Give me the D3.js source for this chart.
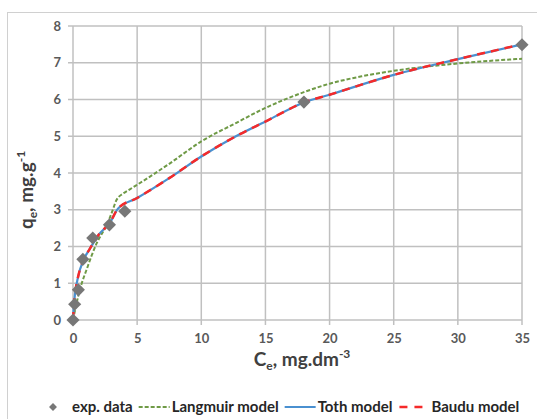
<!DOCTYPE html>
<html><head><meta charset="utf-8">
<script src="https://cdn.jsdelivr.net/npm/d3@7"></script>
<style>
body{margin:0;background:#fff;}
svg{display:block;}
</style></head>
<body>
<script>
// ---- data ----
const expX = [0, 0.13, 0.42, 0.77, 1.54, 2.84, 4.04, 18, 35];
const expY = [0, 0.43, 0.82, 1.65, 2.23, 2.59, 2.96, 5.93, 7.49];

const langX = [0, 0.2, 0.4, 0.7, 1.05, 1.45, 1.85, 2.25, 2.6, 3.0, 3.4, 3.9, 4.4, 5.0, 5.9, 7.5, 10, 12.7, 15, 18, 20, 22.5, 25, 30, 35];
const langY = [0, 0.33, 0.64, 1.02, 1.36, 1.75, 2.09, 2.35, 2.56, 2.9, 3.27, 3.44, 3.55, 3.68, 3.88, 4.25, 4.86, 5.36, 5.77, 6.2, 6.43, 6.63, 6.78, 6.98, 7.11];

const tothX = [0, 0.08, 0.16, 0.4, 0.8, 1.3, 2.0, 2.9, 3.5, 5, 7.5, 10, 12.7, 15, 18, 20, 25, 30, 35];
const tothY = [0, 0.45, 0.72, 1.18, 1.62, 1.93, 2.32, 2.66, 3.03, 3.32, 3.86, 4.45, 5.0, 5.4, 5.92, 6.13, 6.67, 7.1, 7.5];

const bauduX = [0, 0.08, 0.16, 0.4, 0.8, 1.3, 2.0, 2.9, 3.5, 5, 7.5, 10, 12.7, 15, 18, 20, 25, 30, 35];
const bauduY = [0, 0.45, 0.72, 1.18, 1.62, 1.93, 2.32, 2.66, 3.03, 3.32, 3.86, 4.45, 5.0, 5.4, 5.92, 6.13, 6.67, 7.1, 7.5];

const xTicks = [0, 5, 10, 15, 20, 25, 30, 35];
const yTicks = [0, 1, 2, 3, 4, 5, 6, 7, 8];

const legendLabels = ["exp. data", "Langmuir model", "Toth model", "Baudu model"];

// ---- drawing ----
const W = 537, H = 419;
const svg = d3.select("body").append("svg").attr("width", W).attr("height", H);
svg.append("rect").attr("x", 7.5).attr("y", 12.5).attr("width", 540).attr("height", 420)
  .attr("fill", "#fff").attr("stroke", "#d0d0d0").attr("stroke-width", 1);

const x = d3.scaleLinear().domain([0, 35]).range([73, 522]);
const y = d3.scaleLinear().domain([0, 8]).range([320, 26]);

const font = "Lato, 'Open Sans', sans-serif";
const gridColor = "#c0c0c0";

// grid
const g = svg.append("g");
g.selectAll(".vg").data(xTicks).join("line")
  .attr("x1", d => x(d)).attr("x2", d => x(d)).attr("y1", y(8)).attr("y2", y(0) + 5)
  .attr("stroke", gridColor).attr("stroke-width", 1.5);
g.selectAll(".hg").data(yTicks).join("line")
  .attr("x1", x(0) - 5).attr("x2", x(35)).attr("y1", d => y(d)).attr("y2", d => y(d))
  .attr("stroke", gridColor).attr("stroke-width", 1.5);

// axes labels via d3 axes
const xAxis = svg.append("g").attr("transform", `translate(0,${y(0)})`)
  .call(d3.axisBottom(x).tickValues(xTicks).tickSize(0).tickPadding(14));
const yAxis = svg.append("g").attr("transform", `translate(${x(0)},0)`)
  .call(d3.axisLeft(y).tickValues(yTicks).tickSize(0).tickPadding(12));
[xAxis, yAxis].forEach(a => {
  a.select(".domain").remove();
  a.selectAll("text").attr("font-family", font).attr("font-size", 13)
    .attr("font-weight", "bold").attr("fill", "#595959");
});

// axis titles
const xt = svg.append("text").attr("x", 302).attr("y", 366).attr("text-anchor", "middle")
  .attr("font-family", font).attr("font-size", 19).attr("font-weight", "bold").attr("fill", "#404040");
xt.append("tspan").text("C");
xt.append("tspan").text("e").attr("font-size", 12).attr("dy", 4);
xt.append("tspan").text(", mg.dm").attr("dy", -4);
xt.append("tspan").text("-3").attr("font-size", 12).attr("dy", -8);

const yt = svg.append("text").attr("transform", "translate(33,190) rotate(-90)").attr("text-anchor", "middle")
  .attr("font-family", font).attr("font-size", 19).attr("font-weight", "bold").attr("fill", "#404040");
yt.append("tspan").text("q");
yt.append("tspan").text("e").attr("font-size", 12).attr("dy", 4);
yt.append("tspan").text(", mg.g").attr("dy", -4);
yt.append("tspan").text("-1").attr("font-size", 12).attr("dy", -8);

// lines
const mk = (xs, ys) => xs.map((v, i) => [v, ys[i]]);
const line = d3.line().x(d => x(d[0])).y(d => y(d[1])).curve(d3.curveMonotoneX);

svg.append("path").datum(mk(langX, langY)).attr("d", line)
  .attr("fill", "none").attr("stroke", "#6f9a46").attr("stroke-width", 2).attr("stroke-dasharray", "4,2");
svg.append("path").datum(mk(tothX, tothY)).attr("d", line)
  .attr("fill", "none").attr("stroke", "#4a90d0").attr("stroke-width", 2.2);
svg.append("path").datum(mk(bauduX, bauduY)).attr("d", line)
  .attr("fill", "none").attr("stroke", "#f52a2a").attr("stroke-width", 2.5).attr("stroke-dasharray", "8,6");

// points
const sym = d3.symbol().type(d3.symbolDiamond2).size(110);
svg.selectAll(".pt").data(mk(expX, expY)).join("path")
  .attr("d", sym).attr("transform", d => `translate(${x(d[0])},${y(d[1])})`)
  .attr("fill", "#777777");

// legend
const ly = 407;
const lg = svg.append("g").attr("font-family", font).attr("font-size", 15).attr("font-weight", "bold").attr("fill", "#262626");
let cx = 46;
legendLabels.forEach((lab, i) => {
  let textX;
  if (i === 0) {
    lg.append("path").attr("d", d3.symbol().type(d3.symbolDiamond2).size(40)())
      .attr("transform", `translate(${cx + 7},${ly})`).attr("fill", "#777777");
    textX = cx + 26;
  } else {
    const l = lg.append("line").attr("x1", cx).attr("x2", cx + 31).attr("y1", ly).attr("y2", ly);
    if (i === 1) l.attr("stroke", "#6f9a46").attr("stroke-width", 2).attr("stroke-dasharray", "4,2");
    if (i === 2) l.attr("stroke", "#4a90d0").attr("stroke-width", 2);
    if (i === 3) l.attr("stroke", "#f52a2a").attr("stroke-width", 2.5).attr("stroke-dasharray", "8,7").attr("x1", cx + 1).attr("x2", cx + 29);
    textX = cx + 33;
  }
  const t = lg.append("text").attr("x", textX).attr("y", ly).attr("dy", "0.35em").text(lab);
  cx = textX + t.node().getComputedTextLength() + 6;
});
</script>
</body></html>
